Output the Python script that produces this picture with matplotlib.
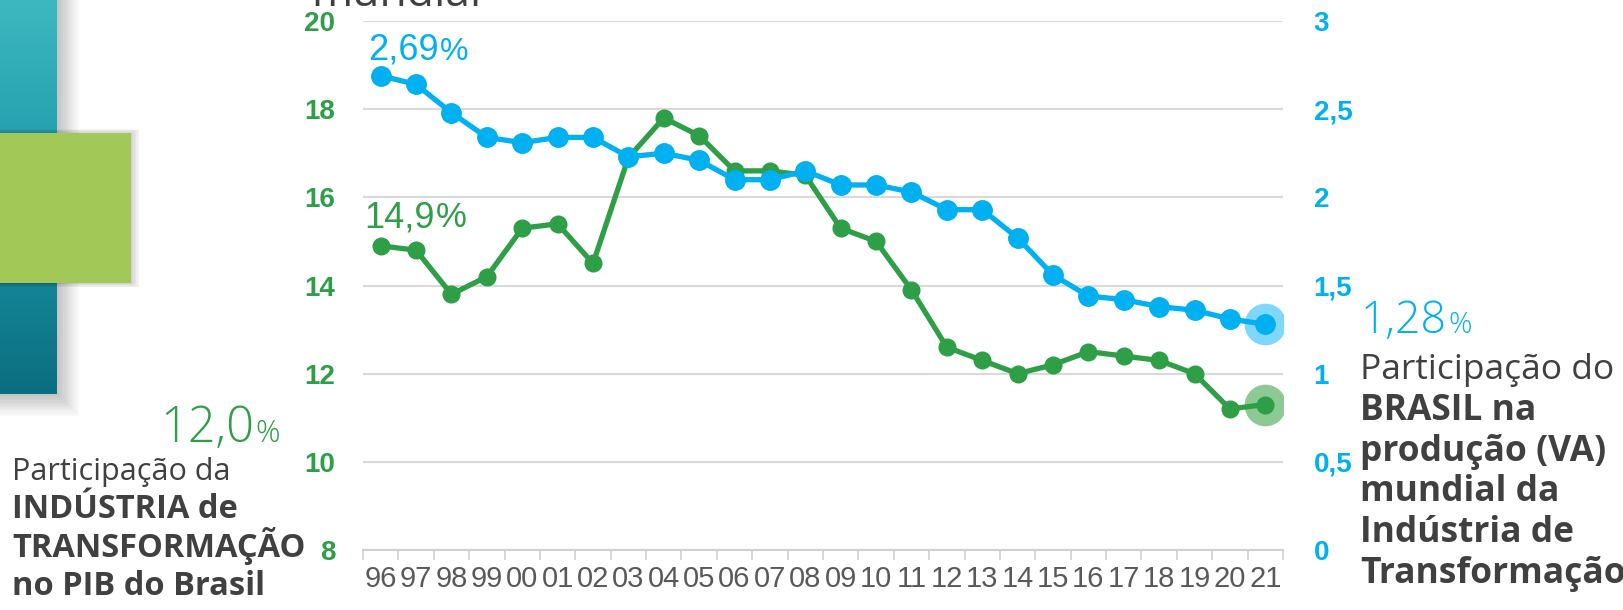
import numpy as np
import matplotlib.pyplot as plt
from matplotlib.colors import LinearSegmentedColormap
from matplotlib.patches import Rectangle

years = ["96", "97", "98", "99", "00", "01", "02", "03", "04", "05", "06", "07", "08",
         "09", "10", "11", "12", "13", "14", "15", "16", "17", "18", "19", "20", "21"]
pib_share = [14.9, 14.8, 13.8, 14.2, 15.3, 15.4, 14.5, 16.9, 17.8, 17.4, 16.6, 16.6, 16.5,
             15.3, 15.0, 13.9, 12.6, 12.3, 12.0, 12.2, 12.5, 12.4, 12.3, 12.0, 11.2, 11.3]
world_share = [2.69, 2.64, 2.48, 2.34, 2.31, 2.34, 2.34, 2.23, 2.25, 2.21, 2.10, 2.10, 2.15,
               2.07, 2.07, 2.03, 1.93, 1.93, 1.77, 1.56, 1.44, 1.42, 1.38, 1.36, 1.31, 1.28]
left_ticks = [8, 10, 12, 14, 16, 18, 20]
right_ticks = [0, 0.5, 1, 1.5, 2, 2.5, 3]
right_labels = ["0", "0,5", "1", "1,5", "2", "2,5", "3"]

GREEN = "#2e9e47"
BLUE = "#00b0f0"
GRAY = "#404040"
W, H = 1624, 610

fig = plt.figure(figsize=(W / 100, H / 100), dpi=100)

def fx(px):
    return px / W

def fy(py):
    return 1 - py / H

# decoration on the left
deco = fig.add_axes([0, 0, 1, 1], zorder=0)
deco.set_xlim(0, W)
deco.set_ylim(H, 0)
deco.axis("off")
for i in range(10):
    g = 2 + i * 2.2
    deco.add_patch(Rectangle((-20, -20), 57 + 20 + g, 394 + 20 + g, color="black",
                             alpha=0.025, lw=0))
grad = np.linspace(0, 1, 200).reshape(-1, 1)
teal = LinearSegmentedColormap.from_list("teal", ["#3db8c0", "#1a97a8", "#0b6e80"])
deco.imshow(grad, extent=(0, 57, 394, 0), cmap=teal, aspect="auto", zorder=2)
for i in range(6):
    g = 1 + i * 1.5
    deco.add_patch(Rectangle((-10, 133 - g / 2), 131 + 10 + g, 150 + g, color="black",
                             alpha=0.03, lw=0, zorder=3))
deco.add_patch(Rectangle((0, 133), 131, 150, color="#a2c857", lw=0, zorder=4))

ax = fig.add_axes([fx(363), fy(550), fx(1283 - 363), (550 - 21) / H], zorder=2)
ax.patch.set_alpha(0)
x = np.arange(len(years))
ax.set_xlim(-0.5, len(years) - 0.5)
ax.set_ylim(8, 20)
ax.set_yticks(left_ticks)
ax.set_yticklabels([str(t) for t in left_ticks], color=GREEN, fontweight="bold",
                   fontsize=20, family="Liberation Sans")
ax.tick_params(axis="y", length=0, pad=20)
ax.set_xticks(x)
ax.set_xticklabels(years, fontsize=21, color="#595959", family="Liberation Sans")
ax.tick_params(axis="x", length=0, pad=11)
ax.set_xticks(np.arange(len(years) + 1) - 0.5, minor=True)
ax.tick_params(axis="x", which="minor", length=7, color="#d0d0d0", width=1.2)
ax.grid(axis="y", color="#d9d9d9", lw=1.5)
for s in ["top", "left", "right"]:
    ax.spines[s].set_visible(False)
ax.spines["bottom"].set_color("#d0d0d0")
ax.spines["bottom"].set_linewidth(1.5)

ax.plot(x, pib_share, color=GREEN, lw=3.8, marker="o", ms=12, zorder=3, clip_on=False)
ax.scatter([x[-1]], [pib_share[-1]], s=900, color="#8cc995", zorder=2, lw=0)

ax2 = ax.twinx()
ax2.set_ylim(0, 3)
ax2.set_yticks(right_ticks)
ax2.set_yticklabels(right_labels, color=BLUE, fontweight="bold", fontsize=20,
                    family="Liberation Sans")
ax2.tick_params(axis="y", length=0, pad=22)
for s in ["top", "left", "right", "bottom"]:
    ax2.spines[s].set_visible(False)
ax2.plot(x, world_share, color=BLUE, lw=3.8, marker="o", ms=14, zorder=3, clip_on=False)
ax2.scatter([x[-1]], [world_share[-1]], s=900, color="#7fd8fb", zorder=2, lw=0)

def pct_label(xp, yp, num, color, size, psize, family="Liberation Sans", weight="normal"):
    t = fig.text(fx(xp), fy(yp), num, color=color, fontsize=size, family=family,
                 weight=weight, va="baseline", ha="left")
    fig.canvas.draw()
    bb = t.get_window_extent()
    fig.text(bb.x1 / W + 0.001, fy(yp), "%", color=color, fontsize=psize,
             family=family, weight=weight, va="baseline", ha="left")

pct_label(368, 60, "2,69", BLUE, 26, 23)
pct_label(364, 227, "14,9", GREEN, 26, 25)
pct_label(160, 442, "12,0", GREEN, 35, 22, family="Open Sans", weight="light")
pct_label(1361, 333, "1,28", BLUE, 32, 21, family="Open Sans", weight="light")

# title line cut by the top edge, as in the source slide
fig.text(fx(311), fy(6), "mundial", color=GRAY, fontsize=32, family="Open Sans",
         va="baseline")

left_lines = [("Participação da", "normal", 22), ("INDÚSTRIA de", "bold", 23.5),
              ("TRANSFORMAÇÃO", "bold", 23.5), ("no PIB do Brasil", "bold", 23.5)]
for i, (s, w, fs) in enumerate(left_lines):
    fig.text(fx(12), fy(480 + i * 38.3), s, color=GRAY, fontsize=fs, weight=w,
             family="Open Sans", va="baseline")

right_lines = [("Participação do", "normal"), ("BRASIL na", "bold"),
               ("produção (VA)", "bold"), ("mundial da", "bold"),
               ("Indústria de", "bold"), ("Transformação", "bold")]
for i, (s, w) in enumerate(right_lines):
    fig.text(fx(1360), fy(379 + i * 40.8), s, color=GRAY, fontsize=25.5, weight=w,
             family="Open Sans", va="baseline")

fig.savefig("out.png", dpi=100)
